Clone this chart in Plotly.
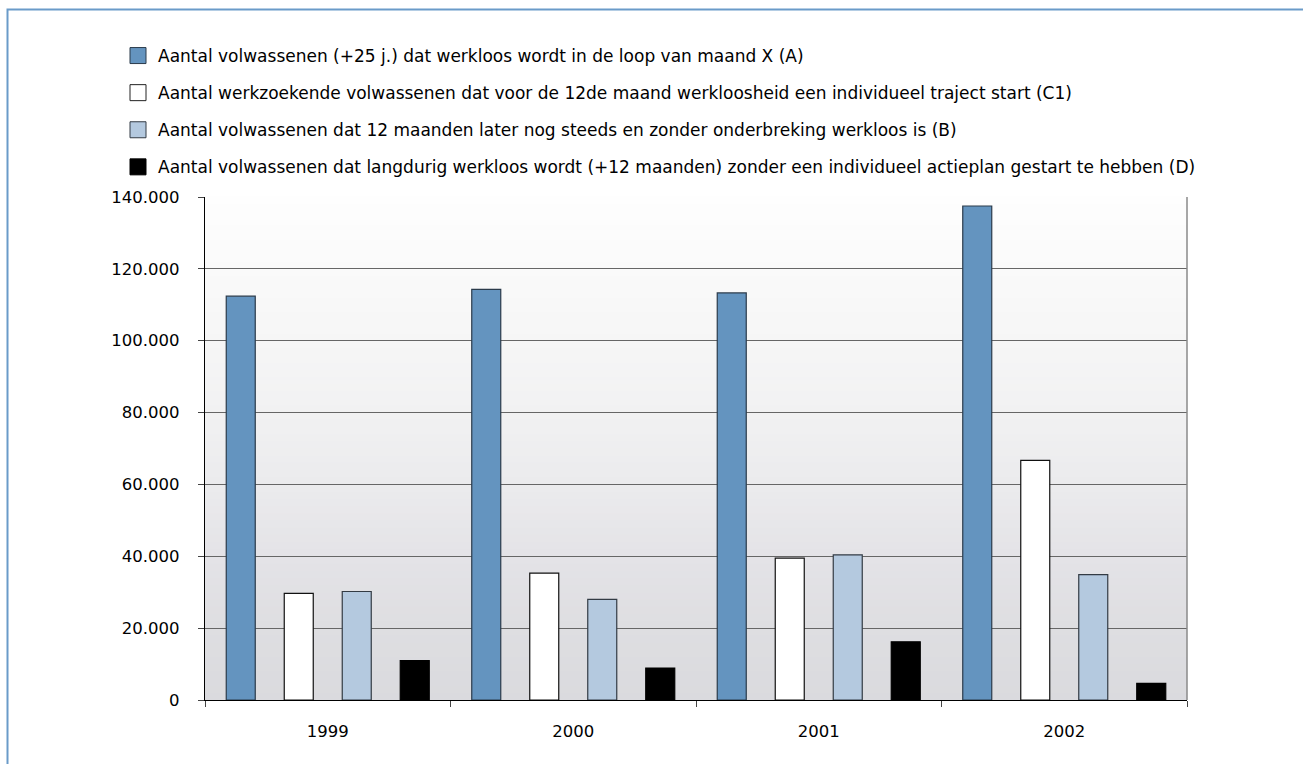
import plotly.graph_objects as go

years = ["1999", "2000", "2001", "2002"]
series_names = [
    "Aantal volwassenen (+25 j.) dat werkloos wordt in de loop van maand X (A)",
    "Aantal werkzoekende volwassenen dat voor de 12de maand werkloosheid een individueel traject start (C1)",
    "Aantal volwassenen dat 12 maanden later nog steeds en zonder onderbreking werkloos is (B)",
    "Aantal volwassenen dat langdurig werkloos wordt (+12 maanden) zonder een individueel actieplan gestart te hebben (D)",
]
vals_A = [112400, 114300, 113300, 137500]
vals_C1 = [29700, 35300, 39500, 66700]
vals_B = [30200, 28000, 40400, 34900]
vals_D = [10950, 8900, 16200, 4650]
y_ticks = [0, 20000, 40000, 60000, 80000, 100000, 120000, 140000]

fills = ["#6494bf", "#ffffff", "#b4c9df", "#000000"]
borders = ["#2b3b4b", "#111111", "#333b44", "#000000"]
all_vals = [vals_A, vals_C1, vals_B, vals_D]

FONT = "DejaVu Sans, Verdana, sans-serif"

fig = go.Figure()
for i, (name, v) in enumerate(zip(series_names, all_vals)):
    fig.add_trace(go.Bar(
        x=years, y=v, name=name, showlegend=False,
        marker=dict(color=fills[i], line=dict(color=borders[i], width=1.2)),
        hoverinfo="x+y",
    ))
# legend-only entries with larger square symbols
for i, name in enumerate(series_names):
    fig.add_trace(go.Scatter(
        x=[None], y=[None], mode="markers", name=name, legendgroup=f"g{i}",
        marker=dict(symbol="square", size=16, color=fills[i],
                    line=dict(color=borders[i] if i != 1 else "#222222", width=1)),
        showlegend=True,
    ))

# background gradient bands (plot area)
stops = [(0.0, (218, 218, 222)), (1/7, (222, 222, 225)), (2/7, (228, 227, 231)),
         (3/7, (235, 235, 237)), (4/7, (241, 241, 242)), (5/7, (246, 246, 246)),
         (6/7, (250, 250, 250)), (1.0, (254, 254, 254))]
def col_at(t):
    for (t0, c0), (t1, c1) in zip(stops[:-1], stops[1:]):
        if t0 <= t <= t1:
            f = (t - t0) / (t1 - t0)
            return "rgb(%d,%d,%d)" % tuple(round(a + (b - a) * f) for a, b in zip(c0, c1))
    return "rgb(254,254,254)"
nb = 70
shapes = []
for k in range(nb):
    y0 = k / nb
    y1 = (k + 1) / nb
    shapes.append(dict(type="rect", xref="x domain", yref="y domain",
                       x0=0, x1=1, y0=y0, y1=y1 + 0.002, layer="below",
                       line=dict(width=0), fillcolor=col_at((y0 + y1) / 2)))
# right border of plot
shapes.append(dict(type="line", xref="x domain", yref="y domain", x0=1, x1=1, y0=0, y1=1,
                   line=dict(color="#8a8a8a", width=1.5), layer="above"))
# outer frame
shapes.append(dict(type="rect", xref="paper", yref="paper",
                   x0=(7.5 - 205) / 982, x1=(1320 - 205) / 982,
                   y0=-0.3, y1=1 + (197 - 9.5) / 503,
                   line=dict(color="#6a9bc9", width=2), fillcolor="rgba(0,0,0,0)", layer="below"))

fig.update_layout(
    width=1303, height=764,
    margin=dict(l=205, r=116, t=197, b=64, autoexpand=False),
    paper_bgcolor="white", plot_bgcolor="#e8e8ea",
    font=dict(family=FONT, size=16.5, color="#000000"),
    separators=",.",
    barmode="group", bargap=0.055, bargroupgap=0.5,
    shapes=shapes,
    showlegend=True,
    legend=dict(xref="container", yref="container", x=118 / 1303, y=1 - 38 / 764,
                xanchor="left", yanchor="top", orientation="v",
                font=dict(family=FONT, size=17), tracegroupgap=12, bgcolor="rgba(0,0,0,0)",
                itemclick=False, itemdoubleclick=False),
    xaxis=dict(type="category", range=[-0.5, 3.5], showgrid=False,
               showline=True, linecolor="#000000", linewidth=1.2,
               ticks="outside", tickson="boundaries", ticklen=6, tickcolor="#444444",
               ticklabelstandoff=16, tickfont=dict(family=FONT, size=16.5)),
    yaxis=dict(range=[0, 140000], tickvals=y_ticks, tickformat=",d",
               showgrid=True, gridcolor="#666666", gridwidth=1.3,
               showline=True, linecolor="#000000", linewidth=1.2,
               ticks="outside", ticklen=6, tickcolor="#444444",
               ticklabelstandoff=15, zeroline=False, tickfont=dict(family=FONT, size=16.5)),
)

fig.write_html("out.html")
